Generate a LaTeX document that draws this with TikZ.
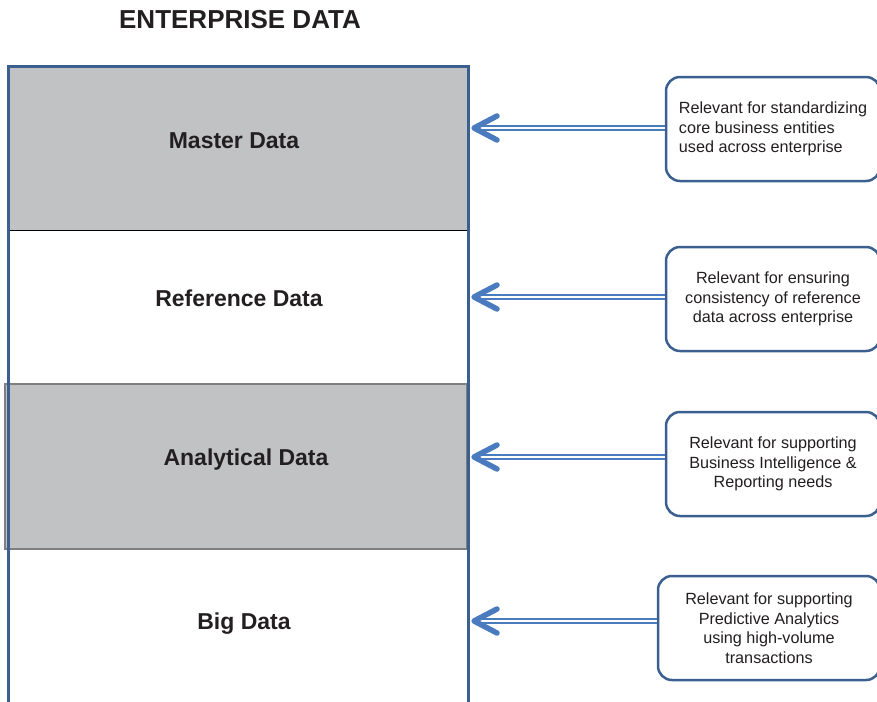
\documentclass[tikz,border=0pt]{standalone}
\usepackage{fontspec}
\setmainfont{Liberation Sans}
\definecolor{frameblue}{HTML}{3B5F8E}
\definecolor{arrowblue}{HTML}{4A7BBE}
\definecolor{bandgray}{HTML}{C1C2C4}
\definecolor{edgegray}{HTML}{7F7F7F}
\definecolor{inkdark}{HTML}{231F20}
\tikzset{
  band/.style={rectangle,fill=bandgray,inner sep=0pt},
  bandtext/.style={anchor=base,text=inkdark,font=\fontsize{23}{26}\selectfont\bfseries},
  note/.style={draw=frameblue,line width=2.5pt,rounded corners=14pt,fill=white,
    minimum height=104pt,text=inkdark,font=\fontsize{16.2}{19.5}\selectfont},
  feed/.style={draw=arrowblue,double=white,double distance=2pt,line width=2.3pt},
  chev/.style={draw=arrowblue,line width=5.5pt,line cap=round,line join=round}
}
\begin{document}
\begin{tikzpicture}[x=1pt,y=-1pt]
\useasboundingbox (0,0) rectangle (877,701);
\node[anchor=base,text=inkdark,font=\fontsize{26}{30}\selectfont\bfseries] (T) at (240,29) {ENTERPRISE DATA};
% layers
\node[band,minimum width=460pt,minimum height=164pt] (MB) at (238,148) {};
\node[band,draw=edgegray,line width=1.5pt,minimum width=462pt,minimum height=165pt] (AB) at (236,466.5) {};
\draw[black,line width=1.2pt] (MB.south west) -- (MB.south east);
\draw[frameblue,line width=3pt] (8,710) -- (8,66) -- (468,66) -- (468,710);
\coordinate (R) at (468,0);
\node[bandtext] (M) at (234,148) {Master Data};
\node[bandtext] (RD) at (239,306) {Reference Data};
\node[bandtext] (A) at (246,465) {Analytical Data};
\node[bandtext] (BD) at (244,629) {Big Data};
% notes
\node[note,minimum width=214pt,align=left] (B1) at (773,129) {Relevant for standardizing\\core business entities\\used across enterprise};
\node[note,minimum width=214pt,align=center] (B2) at (773,299) {Relevant for ensuring\\consistency of reference\\data across enterprise};
\node[note,minimum width=214pt,align=center] (B3) at (773,464) {Relevant for supporting\\Business Intelligence \&\\Reporting needs};
\node[note,minimum width=222pt,align=center] (B4) at (769,628) {Relevant for supporting\\Predictive Analytics\\using high-volume\\transactions};
% arrows
\foreach \b/\s in {B1/1,B2/2,B3/7,B4/7} {
  \coordinate (s) at ([yshift=\s pt]\b.west);
  \coordinate (t) at (s -| R);
  \draw[feed] (s) -- ([xshift=6pt]t);
  \draw[chev] ([xshift=29pt,yshift=12pt]t) -- ([xshift=6pt]t) -- ([xshift=29pt,yshift=-12pt]t);
}
\end{tikzpicture}
\end{document}
